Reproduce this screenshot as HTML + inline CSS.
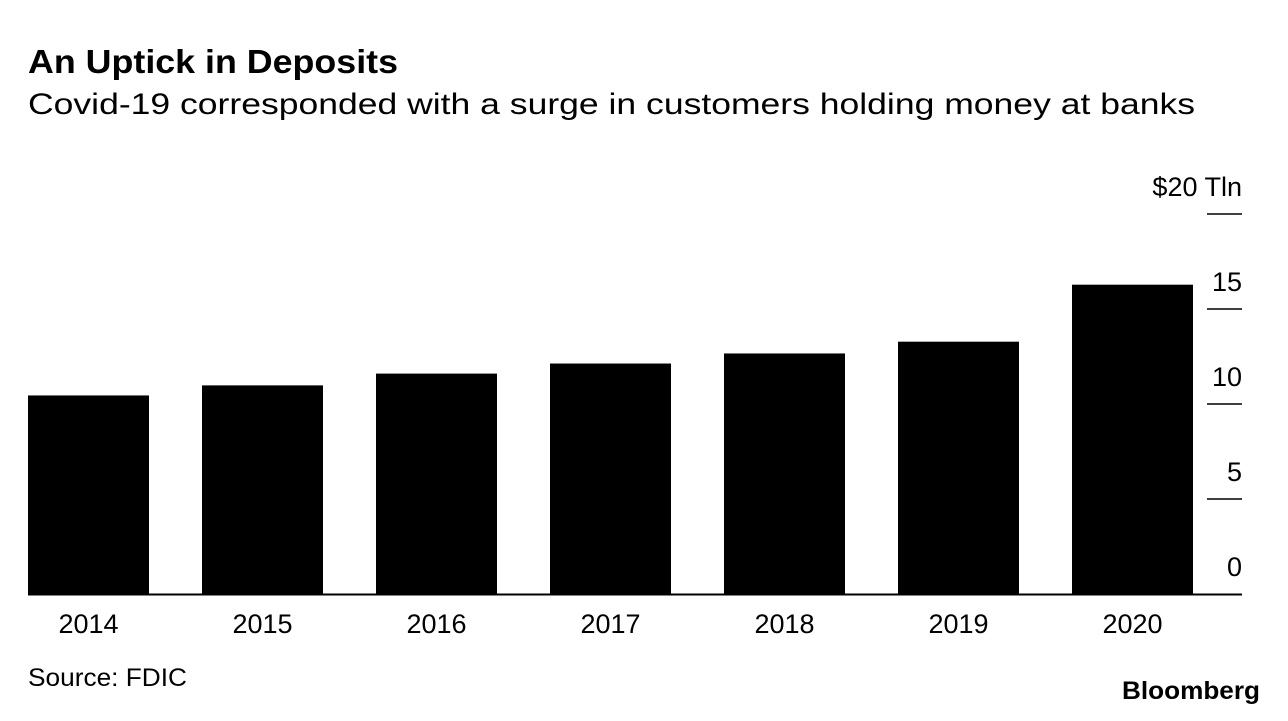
<!DOCTYPE html>
<html><head><meta charset="utf-8"><style>
body{margin:0;background:#fff;width:1288px;height:716px;overflow:hidden;font-family:"Liberation Sans",sans-serif}
</style></head><body>
<svg width="1288" height="716" xmlns="http://www.w3.org/2000/svg">
<text x="28" y="73" font-size="33" font-weight="bold" textLength="370" lengthAdjust="spacingAndGlyphs" fill="#000">An Uptick in Deposits</text>
<text x="28" y="114" font-size="30" textLength="1167" lengthAdjust="spacingAndGlyphs" fill="#000">Covid-19 corresponded with a surge in customers holding money at banks</text>
<g id="plot"></g>
<text x="28" y="686" font-size="25" textLength="159" lengthAdjust="spacingAndGlyphs" fill="#000">Source: FDIC</text>
<text x="1122" y="699" font-size="25" font-weight="bold" textLength="138" lengthAdjust="spacingAndGlyphs" fill="#000">Bloomberg</text>
</svg>
<script>
const categories=["2014","2015","2016","2017","2018","2019","2020"];
const deposits=[10.45,10.98,11.6,12.13,12.66,13.28,16.28];
const tickValues=[0,5,10,15,20];
const tickLabels=["0","5","10","15","$20 Tln"];
const NS="http://www.w3.org/2000/svg";
const g=document.getElementById("plot");
const y0=594,pxPer=19;
const y=v=>y0-v*pxPer;
const x=i=>28+i*174;
const bw=121;
function mk(t,a){const e=document.createElementNS(NS,t);for(const k in a)e.setAttribute(k,a[k]);g.appendChild(e);return e;}
categories.forEach((c,i)=>{
 const r=mk("rect",{x:x(i),y:y(deposits[i]),width:bw,height:y0-y(deposits[i]),fill:"#000"});
 
 
 const t=mk("text",{x:x(i)+bw/2,y:633,"font-size":27,"text-anchor":"middle",fill:"#000"});
 t.textContent=c;
 
 
});
const base=mk("line",{x1:28,x2:1242,y1:y0+0.5,y2:y0+0.5,stroke:"#000","stroke-width":2});


tickValues.forEach((v,i)=>{
 if(v>0){const l=mk("line",{x1:1207,x2:1242,y1:y(v),y2:y(v),stroke:"#000","stroke-width":1.5});
 
 }
 const t=mk("text",{x:1242,y:y(v)-18,"font-size":27,"text-anchor":"end",fill:"#000"});
 t.textContent=tickLabels[i];
 
 
});
</script>
</body></html>
